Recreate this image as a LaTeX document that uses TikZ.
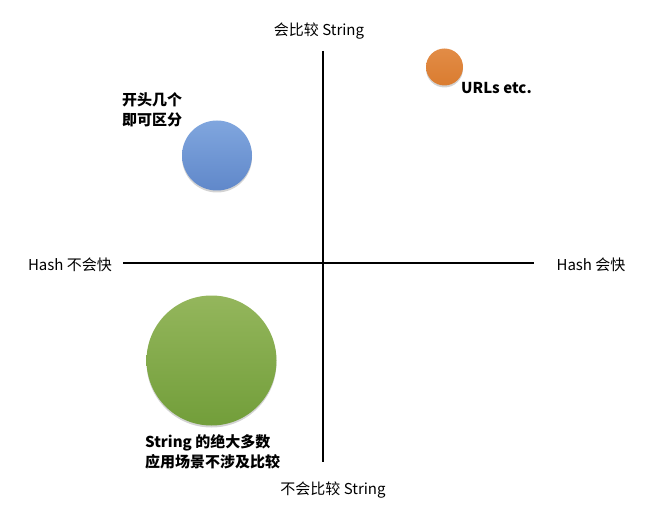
\documentclass[tikz,border=0pt]{standalone}
\usepackage{fontspec}
\setmainfont{Noto Sans CJK SC}
\usetikzlibrary{shadows}
\definecolor{dotorange}{RGB}{218,124,48}
\definecolor{dotorangetop}{RGB}{226,140,70}
\definecolor{dotbluetop}{RGB}{128,166,222}
\definecolor{dotblue}{RGB}{96,136,202}
\definecolor{dotgreentop}{RGB}{148,182,92}
\definecolor{dotgreen}{RGB}{114,158,58}
\begin{document}
\begin{tikzpicture}[x=1pt,y=-1pt,
    axislabel/.style={inner sep=0pt, font=\fontsize{15}{20}\selectfont},
    dotlabel/.style={inner sep=0pt, align=left, font=\fontsize{15}{20}\selectfont\bfseries},
    bubble/.style={circle, inner sep=0pt,
        drop shadow={opacity=0.35, shadow xshift=0pt, shadow yshift=-2pt}}]
    \useasboundingbox (0,0) rectangle (663,521);
    % axes
    \coordinate (top) at (323,51);
    \coordinate (bottom) at (323,462);
    \coordinate (left) at (123,263);
    \coordinate (right) at (534,263);
    \draw[line width=2pt] (top) -- (bottom);
    \draw[line width=2pt] (left) -- (right);
    \node[axislabel] (ytop) at (319,31) {会比较 String};
    \node[axislabel] (ybot) at (333,490) {不会比较 String};
    \node[axislabel] (xleft) at (70,265) {Hash 不会快};
    \node[axislabel] (xright) at (591,265) {Hash 会快};
    % bubbles
    \node[bubble, minimum size=37pt, top color=dotorangetop, bottom color=dotorange] (urls) at (444.5,67) {};
    \node[bubble, minimum size=70pt, top color=dotbluetop, bottom color=dotblue] (prefix) at (217,155.5) {};
    \node[bubble, minimum size=130pt, top color=dotgreentop, bottom color=dotgreen] (most) at (211.5,360.5) {};
    \node[dotlabel, anchor=west] (urlstext) at (461,88) {URLs etc.};
    \node[dotlabel, anchor=west] (prefixtext) at (122,110) {开头几个\\即可区分};
    \node[dotlabel, anchor=west] (mosttext) at (145,451.5) {String 的绝大多数\\应用场景不涉及比较};
\end{tikzpicture}
\end{document}
